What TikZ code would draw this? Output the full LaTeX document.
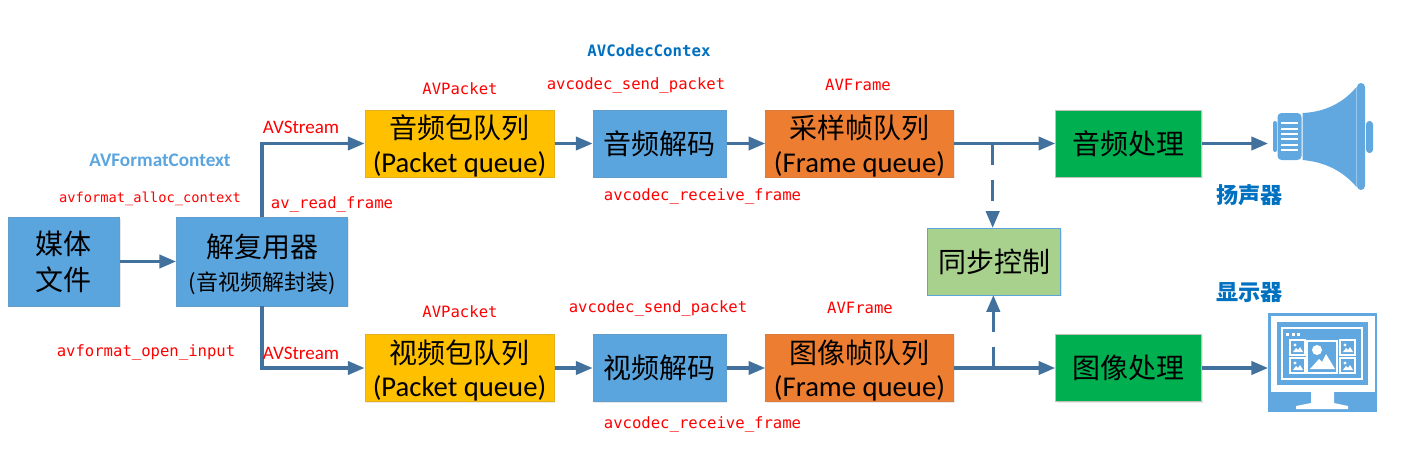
\documentclass[tikz,border=0pt]{standalone}
\usepackage{fontspec}
\setmainfont{Carlito}
\newfontfamily\cjkfont{Noto Sans CJK SC}
\newfontfamily\codefont{DejaVu Sans Mono}
\usetikzlibrary{arrows.meta,positioning,calc,shadows}
\definecolor{boxblue}{HTML}{5BA5DF}
\definecolor{boxgold}{HTML}{FFC000}
\definecolor{boxorange}{HTML}{ED7D31}
\definecolor{boxgreen}{HTML}{00AF50}
\definecolor{boxsync}{HTML}{A9D18E}
\definecolor{linkblue}{HTML}{41719C}
\definecolor{iconblue}{HTML}{62A8E0}
\definecolor{titleblue}{HTML}{0070C0}
\newcommand{\qfont}{\normalfont\fontsize{21.5}{24}\selectfont}
\newcommand{\queuetext}[2]{\rule{0pt}{21.5pt}#1\\[-3pt]{\qfont #2}}
\newcommand{\thumbpic}[2]{% small picture tile of the monitor
  \draw[white,line width=.8pt] (#1,#2) rectangle ++(15,15);
  \fill[white] (#1+3,#2+12) -- (#1+6,#2+8) -- (#1+8,#2+10) -- (#1+10,#2+7) -- (#1+13,#2+12) -- cycle;
  \fill[white] (#1+5,#2+5) circle (1.6);
}

\begin{document}
\begin{tikzpicture}[x=.75pt,y=-.75pt,>={Triangle[length=12.5pt,width=10pt]},
  box/.style={rectangle,minimum height=50pt,inner sep=0pt,align=center,font=\cjkfont\fontsize{21}{28}\selectfont,
    drop shadow={opacity=.18,shadow xshift=.8pt,shadow yshift=-1.2pt}},
  mainbox/.style={box,fill=boxblue,draw=boxblue!80!gray,line width=.5pt},
  pktbox/.style={box,fill=boxgold,minimum width=142pt,draw=boxgold!80!gray,line width=.5pt},
  decbox/.style={mainbox,minimum width=100pt},
  frmbox/.style={box,fill=boxorange,minimum width=141pt,draw=boxorange!80!gray,line width=.5pt},
  procbox/.style={box,fill=boxgreen,minimum width=109.5pt,draw=gray!50,line width=.5pt},
  arr/.style={->,line width=2.3pt,draw=linkblue},
  darr/.style={arr,dash pattern=on 16pt off 11pt},
  apicode/.style={text=red,inner sep=0pt,font=\codefont\fontsize{11.7}{14}\selectfont},
  apitype/.style={text=red,inner sep=0pt,font=\fontsize{14.3}{16}\selectfont},
  ctxname/.style={inner sep=0pt,font=\bfseries\fontsize{14.4}{16}\selectfont},
  devname/.style={text=titleblue,inner sep=0pt,font=\cjkfont\bfseries\fontsize{16.6}{18}\selectfont}]
\useasboundingbox (0,0) rectangle (1422,475);
% boxes
\node[mainbox,minimum width=83.5pt,minimum height=66.5pt] (media) at (64,261.5) {媒体\\[-1pt]文件};
\node[mainbox,minimum width=128.5pt,minimum height=66.5pt] (demux) at (262,261.5) {\rule{0pt}{21.5pt}解复用器\\[-3pt]{\fontsize{16.5}{18}\selectfont (音视频解封装)}};
\node[pktbox] (apkt) at (459.5,143.5) {\queuetext{音频包队列}{(Packet queue)}};
\node[decbox,right=28.5pt of apkt] (adec) {音频解码};
\node[frmbox,right=29pt of adec] (aframe) {\queuetext{采样帧队列}{(Frame queue)}};
\node[procbox,right=76pt of aframe] (aproc) {音频处理};
\node[pktbox] (vpkt) at (459.5,368) {\queuetext{视频包队列}{(Packet queue)}};
\node[decbox,right=28.5pt of vpkt] (vdec) {视频解码};
\node[frmbox,right=29pt of vdec] (vframe) {\queuetext{图像帧队列}{(Frame queue)}};
\node[procbox,right=76pt of vframe] (vproc) {图像处理};
\node[mainbox,fill=boxsync,draw=boxblue,minimum width=100pt] (sync) at (994,261.5) {同步控制};
% end points of the icons
\coordinate (spk) at (1268,143.5);
\coordinate (scr) at (1268,368);
% connectors
\draw[arr] (media) -- (demux);
\draw[arr] (demux.north) |- (apkt.west);
\draw[arr] (demux.south) |- (vpkt.west);
\draw[arr] (apkt) -- (adec);
\draw[arr] (adec) -- (aframe);
\draw[arr] (aframe) -- (aproc);
\draw[arr] (aproc) -- (spk);
\draw[arr] (vpkt) -- (vdec);
\draw[arr] (vdec) -- (vframe);
\draw[arr] (vframe) -- (vproc);
\draw[arr] (vproc) -- (scr);
\draw[darr] ([xshift=-1pt]sync.north |- aframe.east) -- ([xshift=-1pt]sync.north);
\draw[darr] ([xshift=-.5pt]sync.south |- vframe.east) -- ([xshift=-.5pt]sync.south);
% labels
\node[ctxname,font=\codefont\bfseries\fontsize{11.8}{14}\selectfont,text=titleblue] (codecctx) at (649,51) {AVCodecContex};
\node[ctxname,text=boxblue] (fmtctx) at (160,160) {AVFormatContext};
\node[apicode,font=\codefont\fontsize{10.3}{12}\selectfont] (alloc) at (150,199) {avformat\_alloc\_context};
\node[apicode] (openin) at (146,352) {avformat\_open\_input};
\node[apicode] (readfr) at (332,204) {av\_read\_frame};
\node[apitype] (astream) at (301,127.5) {AVStream};
\node[apitype] (vstream) at (301,353.5) {AVStream};
\node[apicode] (apacket) at (460,89) {AVPacket};
\node[apicode] (vpacket) at (460,312) {AVPacket};
\node[apicode] (aframelb) at (858,85) {AVFrame};
\node[apicode] (vframelb) at (860,308) {AVFrame};
\node[apicode] (asend) at (636,85) {avcodec\_send\_packet};
\node[apicode] (vsend) at (658,308) {avcodec\_send\_packet};
\node[apicode] (arecv) at (702.5,196.5) {avcodec\_receive\_frame};
\node[apicode] (vrecv) at (702.5,424.5) {avcodec\_receive\_frame};
\node[devname] (spkname) at (1249.5,195) {扬声器};
\node[devname] (scrname) at (1249.5,293) {显示器};
% speaker
\fill[iconblue,rounded corners=1.5pt] (1273,121) rectangle (1277,152);
\fill[iconblue,rounded corners=3pt] (1277.5,113) rectangle (1301.5,160);
\fill[iconblue] (1302.5,113) .. controls (1325,112) and (1343,103) .. (1356.5,87) -- (1356.5,187) .. controls (1343,171) and (1325,162) .. (1302.5,160) -- cycle;
\fill[iconblue,rounded corners=3pt] (1357,83) rectangle (1365,190);
\fill[iconblue,rounded corners=2.5pt] (1366,121) rectangle (1373,153);
\foreach \ypos in {123,129,134,139,145,150}
  \draw[white,line width=.9pt] (1281,\ypos) -- (1298,\ypos);
% monitor
\fill[iconblue] (1268,313) rectangle (1377,412);
\fill[white] (1271,316) rectangle (1375,392);
\fill[iconblue] (1277,322) rectangle (1368,385);
\draw[white,line width=1pt] (1282,328) rectangle (1362,379);
\foreach \xpos in {1287,1293,1298}
  \fill[white] (\xpos-1.5,332.5) rectangle (\xpos+1.5,335.5);
\thumbpic{1290}{340}
\thumbpic{1290}{358}
\thumbpic{1340}{340}
\thumbpic{1340}{358}
\draw[white,line width=1pt] (1307,341) rectangle (1337,373);
\fill[white] (1317,350) circle (5);
\fill[white] (1310,369) -- (1319,359) -- (1322,362) -- (1326,354) -- (1335,369) -- cycle;
\fill[white] (1311,392) -- (1334,392) -- (1334,403) -- (1348,406) -- (1348,409) -- (1296,409) -- (1296,406) -- (1311,403) -- cycle;
\end{tikzpicture}
\end{document}
